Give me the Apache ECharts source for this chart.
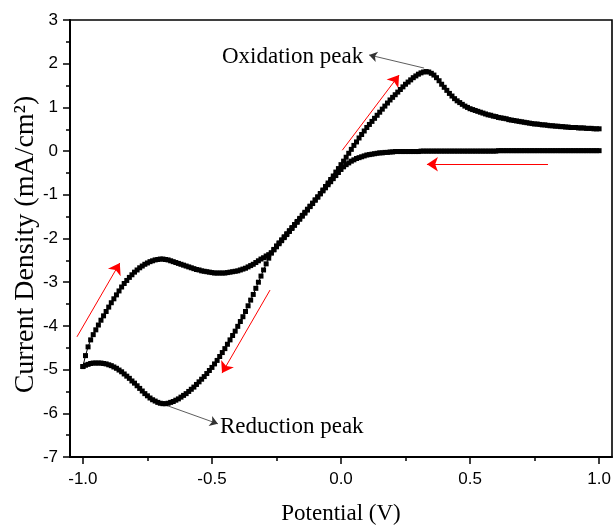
<!DOCTYPE html>
<html>
<head>
<meta charset="utf-8">
<title>Cyclic voltammogram</title>
<script src="https://cdn.jsdelivr.net/npm/echarts@6/dist/echarts.min.js"></script>
<style>
  html, body { margin: 0; padding: 0; background: #fff; }
  #chart { width: 616px; height: 525px; }
</style>
</head>
<body>
<div id="chart"></div>
<script>
// potential sweep points (V), ascending
const potential = [
  -1.00, -0.99, -0.98, -0.97, -0.96, -0.95, -0.94, -0.93, -0.92, -0.91,
  -0.90, -0.89, -0.88, -0.87, -0.86, -0.85, -0.84, -0.83, -0.82, -0.81,
  -0.80, -0.79, -0.78, -0.77, -0.76, -0.75, -0.74, -0.73, -0.72, -0.71,
  -0.70, -0.69, -0.68, -0.67, -0.66, -0.65, -0.64, -0.63, -0.62, -0.61,
  -0.60, -0.59, -0.58, -0.57, -0.56, -0.55, -0.54, -0.53, -0.52, -0.51,
  -0.50, -0.49, -0.48, -0.47, -0.46, -0.45, -0.44, -0.43, -0.42, -0.41,
  -0.40, -0.39, -0.38, -0.37, -0.36, -0.35, -0.34, -0.33, -0.32, -0.31,
  -0.30, -0.29, -0.28, -0.27, -0.26, -0.25, -0.24, -0.23, -0.22, -0.21,
  -0.20, -0.19, -0.18, -0.17, -0.16, -0.15, -0.14, -0.13, -0.12, -0.11,
  -0.10, -0.09, -0.08, -0.07, -0.06, -0.05, -0.04, -0.03, -0.02, -0.01,
  0.00, 0.01, 0.02, 0.03, 0.04, 0.05, 0.06, 0.07, 0.08, 0.09,
  0.10, 0.11, 0.12, 0.13, 0.14, 0.15, 0.16, 0.17, 0.18, 0.19,
  0.20, 0.21, 0.22, 0.23, 0.24, 0.25, 0.26, 0.27, 0.28, 0.29,
  0.30, 0.31, 0.32, 0.33, 0.34, 0.35, 0.36, 0.37, 0.38, 0.39,
  0.40, 0.41, 0.42, 0.43, 0.44, 0.45, 0.46, 0.47, 0.48, 0.49,
  0.50, 0.51, 0.52, 0.53, 0.54, 0.55, 0.56, 0.57, 0.58, 0.59,
  0.60, 0.61, 0.62, 0.63, 0.64, 0.65, 0.66, 0.67, 0.68, 0.69,
  0.70, 0.71, 0.72, 0.73, 0.74, 0.75, 0.76, 0.77, 0.78, 0.79,
  0.80, 0.81, 0.82, 0.83, 0.84, 0.85, 0.86, 0.87, 0.88, 0.89,
  0.90, 0.91, 0.92, 0.93, 0.94, 0.95, 0.96, 0.97, 0.98, 0.99,
  1.00
];

// cathodic scan (swept 1.0 -> -1.0), listed in potential order
const cathodicCurrent = [
  -4.93, -4.90, -4.88, -4.86, -4.85, -4.85, -4.85, -4.85, -4.86, -4.87,
  -4.89, -4.91, -4.94, -4.97, -5.01, -5.05, -5.10, -5.15, -5.20, -5.26,
  -5.31, -5.37, -5.43, -5.49, -5.55, -5.60, -5.65, -5.69, -5.72, -5.75,
  -5.77, -5.78, -5.78, -5.77, -5.75, -5.73, -5.70, -5.67, -5.63, -5.59,
  -5.55, -5.50, -5.45, -5.40, -5.34, -5.28, -5.22, -5.16, -5.09, -5.02,
  -4.95, -4.87, -4.79, -4.70, -4.61, -4.52, -4.42, -4.32, -4.22, -4.12,
  -4.01, -3.90, -3.79, -3.67, -3.54, -3.41, -3.28, -3.14, -3.00, -2.86,
  -2.72, -2.58, -2.45, -2.33, -2.25, -2.17, -2.10, -2.03, -1.96, -1.89,
  -1.82, -1.75, -1.68, -1.61, -1.54, -1.47, -1.40, -1.33, -1.26, -1.19,
  -1.12, -1.05, -0.98, -0.91, -0.84, -0.77, -0.70, -0.63, -0.56, -0.49,
  -0.42, -0.36, -0.31, -0.27, -0.23, -0.20, -0.17, -0.15, -0.13, -0.11,
  -0.09, -0.08, -0.07, -0.06, -0.05, -0.04, -0.04, -0.03, -0.03, -0.02,
  -0.02, -0.01, -0.01, -0.01, -0.01, -0.01, -0.01, -0.01, -0.01, -0.01,
  -0.01, 0.00, 0.00, 0.00, 0.00, 0.00, 0.00, 0.00, 0.00, 0.00,
  0.00, 0.00, 0.00, 0.00, 0.00, 0.00, 0.00, 0.00, 0.00, 0.00,
  0.00, 0.00, 0.00, 0.00, 0.00, 0.00, 0.00, 0.00, 0.00, 0.00,
  0.00, 0.01, 0.01, 0.01, 0.01, 0.01, 0.01, 0.01, 0.01, 0.01,
  0.01, 0.01, 0.01, 0.01, 0.01, 0.01, 0.01, 0.01, 0.01, 0.01,
  0.01, 0.01, 0.01, 0.01, 0.01, 0.01, 0.01, 0.01, 0.01, 0.01,
  0.01, 0.01, 0.01, 0.01, 0.01, 0.01, 0.01, 0.01, 0.01, 0.01,
  0.01
];

// anodic scan (swept -1.0 -> 1.0)
const anodicCurrent = [
  -4.93, -4.68, -4.48, -4.32, -4.20, -4.09, -3.98, -3.87, -3.77, -3.67,
  -3.57, -3.47, -3.38, -3.29, -3.20, -3.11, -3.03, -2.96, -2.89, -2.83,
  -2.77, -2.72, -2.67, -2.63, -2.59, -2.56, -2.53, -2.51, -2.49, -2.48,
  -2.47, -2.47, -2.48, -2.49, -2.51, -2.53, -2.55, -2.57, -2.59, -2.61,
  -2.63, -2.65, -2.67, -2.69, -2.71, -2.72, -2.74, -2.75, -2.76, -2.77,
  -2.78, -2.79, -2.79, -2.79, -2.79, -2.79, -2.78, -2.77, -2.76, -2.75,
  -2.74, -2.72, -2.70, -2.68, -2.65, -2.62, -2.59, -2.55, -2.51, -2.47,
  -2.44, -2.40, -2.37, -2.33, -2.26, -2.19, -2.12, -2.05, -1.98, -1.91,
  -1.84, -1.77, -1.70, -1.63, -1.56, -1.49, -1.42, -1.35, -1.27, -1.20,
  -1.12, -1.05, -0.97, -0.89, -0.81, -0.73, -0.65, -0.57, -0.48, -0.40,
  -0.31, -0.23, -0.14, -0.05, 0.04, 0.13, 0.21, 0.30, 0.38, 0.46,
  0.54, 0.61, 0.68, 0.75, 0.82, 0.89, 0.96, 1.03, 1.10, 1.17,
  1.23, 1.29, 1.35, 1.41, 1.47, 1.53, 1.58, 1.63, 1.68, 1.72,
  1.76, 1.79, 1.81, 1.82, 1.81, 1.78, 1.74, 1.68, 1.61, 1.53,
  1.46, 1.39, 1.32, 1.26, 1.20, 1.15, 1.11, 1.07, 1.03, 1.00,
  0.97, 0.95, 0.93, 0.91, 0.89, 0.87, 0.85, 0.83, 0.82, 0.80,
  0.79, 0.77, 0.76, 0.75, 0.74, 0.72, 0.71, 0.70, 0.69, 0.68,
  0.67, 0.66, 0.65, 0.64, 0.63, 0.62, 0.62, 0.61, 0.60, 0.60,
  0.59, 0.58, 0.58, 0.57, 0.57, 0.56, 0.56, 0.55, 0.55, 0.54,
  0.54, 0.54, 0.53, 0.53, 0.53, 0.52, 0.52, 0.52, 0.51, 0.51,
  0.51
];

const xMajorTicks = [-1.0, -0.5, 0.0, 0.5, 1.0];
const xMinorTicks = [-0.75, -0.25, 0.25, 0.75];

// scan direction arrows (red) and peak pointers, [from, to] in data coords
const scanArrows = [
  [[-1.023, -4.25], [-0.857, -2.56]],
  [[0.005, 0.02], [0.225, 1.74]],
  [[-0.275, -3.18], [-0.461, -5.08]],
  [[0.802, -0.30], [0.333, -0.30]]
];
const peakPointers = [
  [[0.322, 1.90], [0.109, 2.20]],
  [[-0.69, -5.79], [-0.477, -6.24]]
];
const peakLabels = [
  { text: 'Oxidation peak', at: [0.109, 2.20], side: 'left', gap: 6, offset: [0, 2] },
  { text: 'Reduction peak', at: [-0.477, -6.24], side: 'right', gap: 2, offset: [0, 3] }
];

const serif = '"Liberation Serif", "Times New Roman", serif';
const sans = '"Liberation Sans", Arial, sans-serif';

// whole sweep in recorded order: cathodic then anodic
const sweep = [];
for (let i = potential.length - 1; i >= 0; i--) sweep.push([potential[i], cathodicCurrent[i]]);
for (let i = 0; i < potential.length; i++) sweep.push([potential[i], anodicCurrent[i]]);

const chart = echarts.init(document.getElementById('chart'));

chart.setOption({
  animation: false,
  backgroundColor: '#fff',
  grid: {
    left: 70, right: 4, top: 20, bottom: 68,
    outerBoundsMode: 'none',
    show: true, borderColor: '#000', borderWidth: 1.6
  },
  xAxis: [{
    type: 'value',
    min: -1.05, max: 1.05,
    position: 'bottom',
    name: 'Potential (V)',
    nameLocation: 'middle',
    nameGap: 45,
    nameTextStyle: { fontFamily: serif, fontSize: 23, color: '#000' },
    axisLine: { show: true, onZero: false, lineStyle: { color: '#000', width: 2 } },
    axisTick: { show: true, inside: false, length: 7, customValues: xMajorTicks, lineStyle: { color: '#000', width: 1.5 } },
    axisLabel: {
      customValues: xMajorTicks, margin: 14,
      fontFamily: sans, fontSize: 17, color: '#000',
      formatter: v => v.toFixed(1)
    },
    splitLine: { show: false }
  }, {
    type: 'value',
    min: -1.05, max: 1.05,
    position: 'bottom',
    axisLine: { show: false, onZero: false },
    axisTick: { show: true, inside: false, length: 4, customValues: xMinorTicks, lineStyle: { color: '#000', width: 1.5 } },
    axisLabel: { show: false },
    splitLine: { show: false }
  }],
  yAxis: {
    type: 'value',
    min: -7, max: 3, interval: 1,
    name: 'Current Density (mA/cm²)',
    nameLocation: 'middle',
    nameRotate: 90,
    nameGap: 30,
    nameMoveOverlap: false,
    nameTextStyle: { fontFamily: serif, fontSize: 28, color: '#000', padding: [0, 12, 0, 0] },
    axisLine: { show: true, onZero: false, lineStyle: { color: '#000', width: 2 } },
    axisTick: { show: true, inside: false, length: 7, lineStyle: { color: '#000', width: 1.5 } },
    minorTick: { show: true, splitNumber: 2, length: 4, lineStyle: { color: '#000', width: 1.5 } },
    axisLabel: { margin: 12, fontFamily: sans, fontSize: 17, color: '#000' },
    splitLine: { show: false },
    minorSplitLine: { show: false }
  },
  series: [{
    name: 'CV',
    type: 'line',
    xAxisIndex: 0,
    data: sweep,
    symbol: 'rect',
    symbolSize: 5,
    showAllSymbol: true,
    itemStyle: { color: '#000' },
    lineStyle: { color: '#000', width: 1 },
    markPoint: {
      silent: true,
      symbol: 'circle',
      symbolSize: 0,
      data: peakLabels.map(p => ({
        coord: p.at,
        label: {
          show: true, position: p.side, distance: p.gap, offset: p.offset,
          formatter: p.text,
          fontFamily: serif, fontSize: 23, color: '#000'
        }
      }))
    }
  }, {
    name: 'scan direction',
    type: 'lines',
    coordinateSystem: 'cartesian2d',
    xAxisIndex: 0,
    silent: true,
    symbol: ['none', 'arrow'],
    symbolSize: [7, 11],
    lineStyle: { color: '#ff0000', width: 1, opacity: 1 },
    data: scanArrows.map(a => ({ coords: a }))
  }, {
    name: 'peak pointer',
    type: 'lines',
    coordinateSystem: 'cartesian2d',
    xAxisIndex: 0,
    silent: true,
    symbol: ['none', 'arrow'],
    symbolSize: [5, 8],
    lineStyle: { color: '#333', width: 0.8, opacity: 1 },
    data: peakPointers.map(a => ({ coords: a }))
  }]
});
</script>
</body>
</html>
